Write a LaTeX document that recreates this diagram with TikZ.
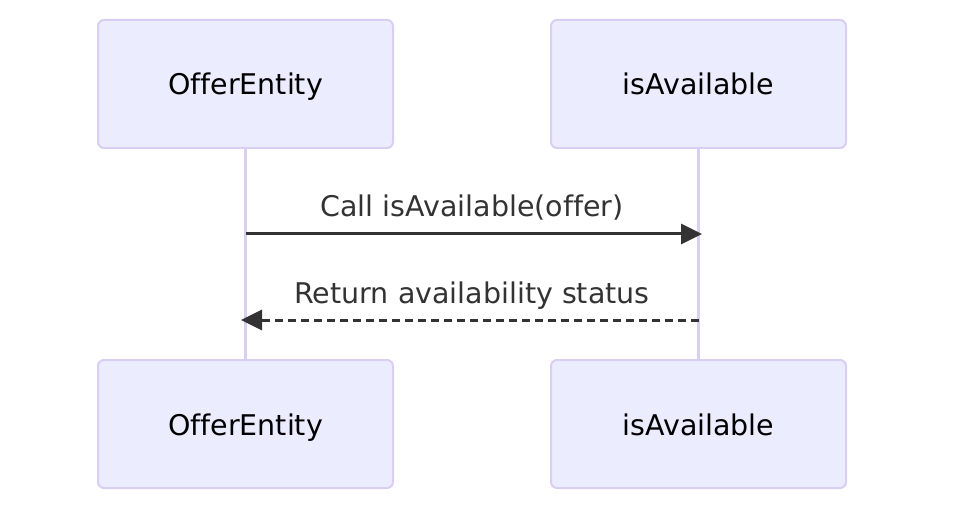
\documentclass[tikz,border=0pt]{standalone}
\usepackage{fontspec}
\setmainfont{DejaVu Sans}[Ligatures=NoCommon,RawFeature=-liga]
\usetikzlibrary{arrows.meta}
\definecolor{actfill}{HTML}{ECECFF}
\definecolor{actline}{HTML}{DACEF3}
\definecolor{msg}{HTML}{333333}
\begin{document}
\begin{tikzpicture}[x=1pt,y=-1pt,
  actor/.style={draw=actline,fill=actfill,line width=2pt,rounded corners=6pt,
    minimum width=295pt,minimum height=128pt,inner sep=0pt,
    text height=24pt,text depth=2pt,
    font=\fontsize{28.5}{34}\selectfont,text=black},
  lifeline/.style={draw=actline,line width=3pt},
  msgline/.style={draw=msg,line width=3pt,-{Triangle[length=21pt,width=20pt]}},
  msglabel/.style={font=\fontsize{28.5}{34}\selectfont,text=msg,inner sep=0pt,anchor=base}]
\useasboundingbox (0,0) rectangle (960,518);
\node[actor] (a1) at (245.5,84) {OfferEntity};
\node[actor] (a2) at (698.5,84) {isAvailable};
\node[actor] (b1) at (245.5,424) {OfferEntity};
\node[actor] (b2) at (698.5,424) {isAvailable};
\draw[lifeline] (a1.south) -- (b1.north);
\draw[lifeline] (a2.south) -- (b2.north);
\coordinate (m1s) at (245.5,234);
\coordinate (m1e) at (702,234);
\coordinate (m2s) at (698.5,320);
\coordinate (m2e) at (241,320);
\node[msglabel] (l1) at (472,217) {Call isAvailable(offer)};
\node[msglabel] (l2) at (472,303) {Return availability status};
\draw[msgline] (m1s) -- (m1e);
\draw[msgline,dash pattern=on 8pt off 5pt] (m2s) -- (m2e);
\end{tikzpicture}
\end{document}
